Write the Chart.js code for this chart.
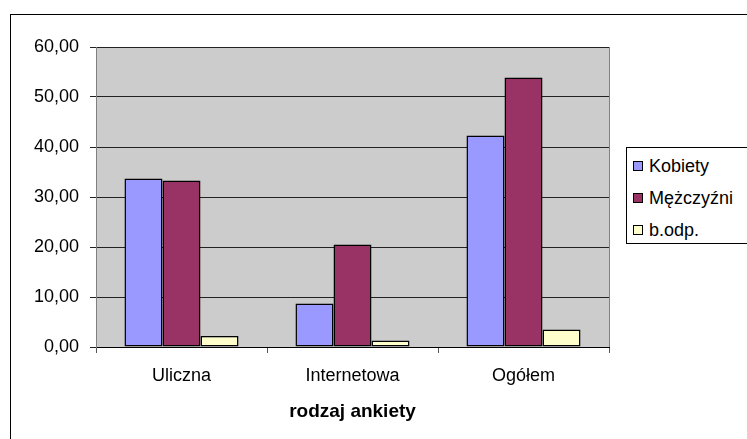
<!DOCTYPE html>
<html>
<head>
<meta charset="utf-8">
<script src="https://cdn.jsdelivr.net/npm/chart.js@4.4.1/dist/chart.umd.min.js"></script>
<style>
  body { margin: 0; background: #fff; overflow: hidden; }
  #wrap { position: relative; width: 747px; height: 439px; }
  #frame { position: absolute; left: 10px; top: 14px; width: 800px; height: 500px; border: 1px solid #000; }
  #myChart { position: absolute; left: 0; top: 0; }
  #legend { position: absolute; left: 626px; top: 147px; width: 160px; height: 97px; border: 1px solid #000; background: #fff;
            font-family: "Liberation Sans", Arial, sans-serif; font-size: 18px; padding-top: 2px; box-sizing: border-box; }
  .item { height: 32px; display: flex; align-items: center; padding-left: 6px; }
  .box { width: 8px; height: 8px; border: 1px solid #000; margin-right: 6px; }
</style>
</head>
<body>
<div id="wrap">
  <div id="frame"></div>
  <canvas id="myChart" width="747" height="439"></canvas>
  <div id="legend"></div>
</div>
<script>
var categories = ["Uliczna", "Internetowa", "Ogółem"];
var seriesNames = ["Kobiety", "Mężczyźni", "b.odp."];
var kobiety = [33.7, 8.7, 42.3];
var mezczyzni = [33.3, 20.5, 53.9];
var bodp = [2.2, 1.3, 3.5];
var seriesColors = ["#9999ff", "#993366", "#ffffcc"];

var font = "'Liberation Sans', Arial, sans-serif";

// gray plot area with gray right edge
var plotBg = {
    id: "plotBg",
    beforeDraw: function (chart) {
        var a = chart.chartArea, c = chart.ctx;
        c.save();
        c.fillStyle = "#cccccc";
        c.fillRect(a.left, a.top, a.right - a.left, a.bottom - a.top);
        c.strokeStyle = "#808080";
        c.lineWidth = 1;
        c.beginPath();
        c.moveTo(a.right + 0.5, a.top);
        c.lineTo(a.right + 0.5, a.bottom);
        c.stroke();
        c.restore();
    }
};

var ctx = document.getElementById("myChart").getContext("2d");
var myChart = new Chart(ctx, {
    type: "bar",
    data: {
        labels: categories,
        datasets: [kobiety, mezczyzni, bodp].map(function (d, i) {
            return {
                label: seriesNames[i],
                data: d,
                backgroundColor: seriesColors[i],
                borderColor: "#000",
                borderWidth: 1.5,
                borderSkipped: false,
                categoryPercentage: 0.667,
                barPercentage: 1
            };
        })
    },
    options: {
        responsive: false,
        animation: false,
        layout: { padding: { left: 0, top: 47, right: 138, bottom: 0 } },
        plugins: { legend: { display: false }, tooltip: { enabled: false } },
        scales: {
            x: {
                afterFit: function (s) { s.height = 92; },
                grid: { offset: true, drawOnChartArea: false, tickLength: 6, color: "#555" },
                border: { color: "#000" },
                ticks: { color: "#000", padding: 12, font: { family: font, size: 18 } },
                title: { display: true, text: "rodzaj ankiety", color: "#000",
                         padding: { top: 0, bottom: 16 }, font: { family: font, size: 19, weight: "bold" } }
            },
            y: {
                min: 0,
                max: 60,
                afterFit: function (s) { s.width = 96; },
                grid: { color: "#222", tickLength: 6 },
                border: { color: "#808080" },
                ticks: {
                    stepSize: 10,
                    padding: 11,
                    color: "#000",
                    font: { family: font, size: 18 },
                    callback: function (v) { return v.toFixed(2).replace(".", ","); }
                }
            }
        }
    },
    plugins: [plotBg]
});

var legend = document.getElementById("legend");
seriesNames.forEach(function (name, i) {
    var row = document.createElement("div");
    row.className = "item";
    row.innerHTML = '<span class="box" style="background:' + seriesColors[i] + '"></span><span>' + name + '</span>';
    legend.appendChild(row);
});
</script>
</body>
</html>
